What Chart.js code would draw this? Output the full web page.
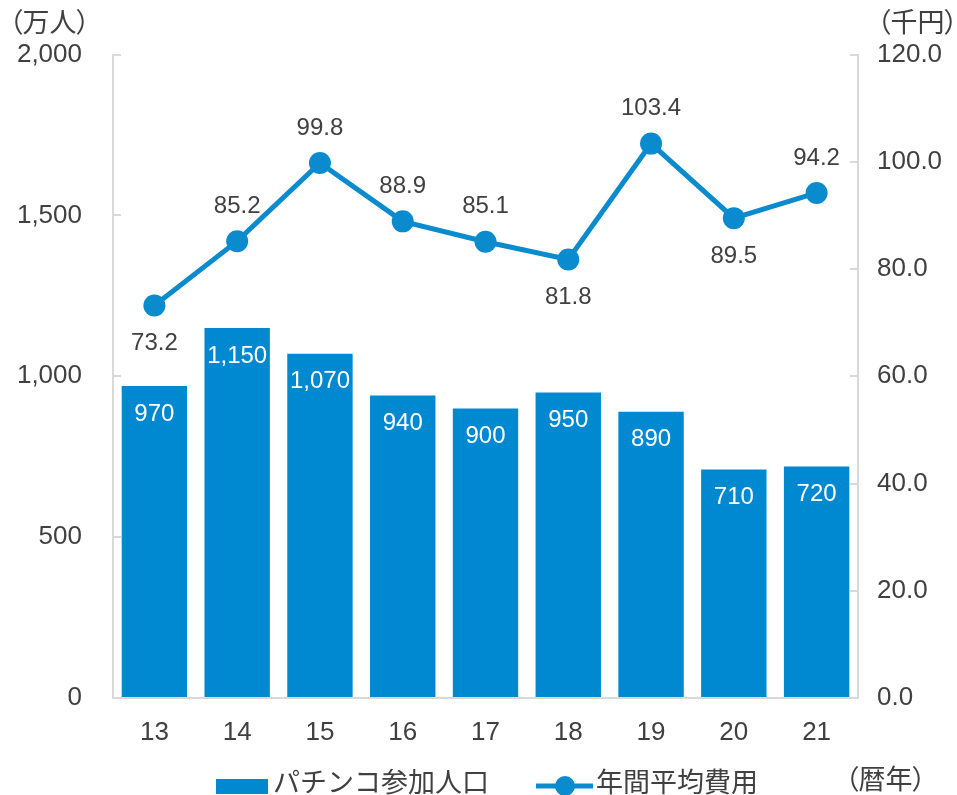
<!DOCTYPE html>
<html>
<head>
<meta charset="utf-8">
<script src="https://cdn.jsdelivr.net/npm/chart.js@4.4.1/dist/chart.umd.min.js"></script>
<style>
  html, body { margin: 0; padding: 0; background: #fff; }
  #wrap { position: relative; width: 957px; height: 795px; }
  .unit {
    position: absolute;
    font-family: "Noto Sans CJK JP", sans-serif;
    font-size: 27px;
    line-height: 1;
    color: #404040;
    white-space: nowrap;
    font-feature-settings: "palt" 1;
  }
</style>
</head>
<body>
<div id="wrap">
  <canvas id="mainChart" width="957" height="795"></canvas>
  <div class="unit" style="left:9px; top:7px;">（万人）</div>
  <div class="unit" style="left:877px; top:7px;">（千円）</div>
  <div class="unit" style="left:845px; top:764px;">（暦年）</div>
</div>
<script>
// Data
const years = ["13", "14", "15", "16", "17", "18", "19", "20", "21"];
const players = [970, 1150, 1070, 940, 900, 950, 890, 710, 720];
const spending = [73.2, 85.2, 99.8, 88.9, 85.1, 81.8, 103.4, 89.5, 94.2];
const seriesNames = ["パチンコ参加人口", "年間平均費用"];

// Colors
const colorBar = "#0089d1",
  colorLine = "#0a8bce",
  colorText = "#404040",
  colorAxis = "#d9d9d9";

const numFont = { family: "'Liberation Sans', Arial, sans-serif", size: 26 };

// which side of the point each line label sits on
const lineLabelSide = ["below", "above", "above", "above", "above", "below", "above", "below", "above"];

// Value labels on bars and points
const valueLabels = {
  id: "valueLabels",
  afterDatasetsDraw(chart) {
    const ctx = chart.ctx;
    ctx.save();
    ctx.font = "24px 'Liberation Sans', Arial, sans-serif";
    ctx.textAlign = "center";
    ctx.textBaseline = "middle";

    chart.getDatasetMeta(0).data.forEach((bar, i) => {
      ctx.fillStyle = "#ffffff";
      ctx.fillText(players[i].toLocaleString("en-US"), bar.x, bar.y + 28);
    });

    chart.getDatasetMeta(1).data.forEach((pt, i) => {
      ctx.fillStyle = colorText;
      const dy = lineLabelSide[i] === "below" ? 38 : -35;
      ctx.fillText(spending[i].toFixed(1), pt.x, pt.y + dy);
    });
    ctx.restore();
  },
};

// Bottom legend
const bottomLegend = {
  id: "bottomLegend",
  afterDraw(chart) {
    const ctx = chart.ctx;
    const labels = chart.data.datasets.map((d) => d.label);
    ctx.save();
    ctx.font = "27px 'Noto Sans CJK JP', sans-serif";
    ctx.textBaseline = "middle";
    ctx.textAlign = "left";

    // bar marker
    ctx.fillStyle = colorBar;
    ctx.fillRect(216, 779, 52, 15);
    ctx.fillStyle = colorText;
    ctx.fillText(labels[0], 273, 782);

    // line marker
    ctx.strokeStyle = colorLine;
    ctx.lineWidth = 5;
    ctx.beginPath();
    ctx.moveTo(536, 786);
    ctx.lineTo(593, 786);
    ctx.stroke();
    ctx.fillStyle = colorLine;
    ctx.beginPath();
    ctx.arc(565, 786, 10, 0, Math.PI * 2);
    ctx.fill();
    ctx.fillStyle = colorText;
    ctx.fillText(labels[1], 596, 782);
    ctx.restore();
  },
};

new Chart(document.getElementById("mainChart"), {
  type: "bar",
  data: {
    labels: years,
    datasets: [
      {
        type: "bar",
        label: seriesNames[0],
        data: players,
        yAxisID: "y",
        backgroundColor: colorBar,
        borderWidth: 0,
        barPercentage: 0.79,
        categoryPercentage: 1,
        order: 1,
      },
      {
        type: "line",
        label: seriesNames[1],
        data: spending,
        yAxisID: "y1",
        borderColor: colorLine,
        backgroundColor: colorLine,
        borderWidth: 5,
        pointRadius: 11,
        pointHoverRadius: 11,
        pointBackgroundColor: colorLine,
        pointBorderWidth: 0,
        tension: 0,
        order: 0,
      },
    ],
  },
  options: {
    responsive: false,
    animation: false,
    devicePixelRatio: 1,
    layout: { padding: { top: 52, left: 0, right: 0, bottom: 0 } },
    plugins: {
      legend: { display: false },
      tooltip: { enabled: false },
    },
    scales: {
      x: {
        grid: { display: true, drawOnChartArea: false, drawTicks: false, color: colorAxis },
        border: { color: colorAxis, width: 2 },
        ticks: { font: numFont, color: colorText, padding: 19 },
        afterFit: (s) => { s.height = 97; },
      },
      y: {
        position: "left",
        min: 0,
        max: 2000,
        ticks: {
          stepSize: 500,
          font: numFont,
          color: colorText,
          padding: 39,
          callback: (v) => v.toLocaleString("en-US"),
        },
        grid: { drawOnChartArea: false, tickLength: -8, color: colorAxis, lineWidth: 2 },
        border: { color: colorAxis, width: 2 },
        afterFit: (s) => { s.width = 113; },
      },
      y1: {
        position: "right",
        min: 0,
        max: 120,
        ticks: {
          stepSize: 20,
          font: numFont,
          color: colorText,
          padding: 27,
          callback: (v) => v.toFixed(1),
        },
        grid: { drawOnChartArea: false, tickLength: -8, color: colorAxis, lineWidth: 2 },
        border: { color: colorAxis, width: 2 },
        afterFit: (s) => { s.width = 99; },
      },
    },
  },
  plugins: [valueLabels, bottomLegend],
});
</script>
</body>
</html>
